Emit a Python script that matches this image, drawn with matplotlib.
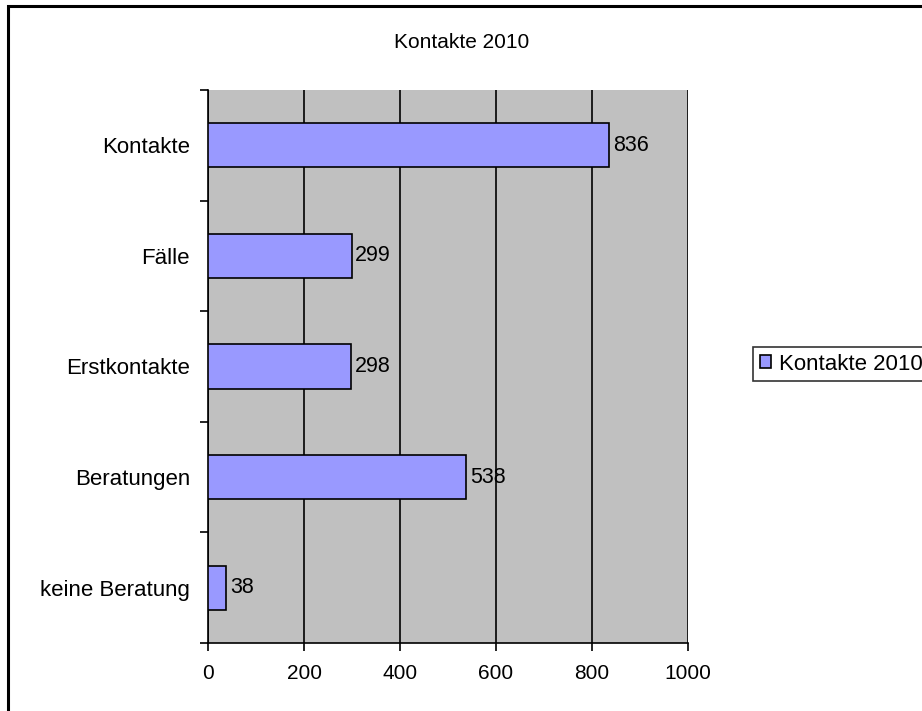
import matplotlib
matplotlib.use("Agg")
import matplotlib.pyplot as plt
from matplotlib.patches import Rectangle

# data, top to bottom as in the chart
categories = ["Kontakte", "Fälle", "Erstkontakte", "Beratungen", "keine Beratung"]
values = [836, 299, 298, 538, 38]
series_name = "Kontakte 2010"

plt.rcParams["font.family"] = ["Liberation Sans", "DejaVu Sans"]
plt.rcParams["font.size"] = 15

W, H = 922, 711
fig = plt.figure(figsize=(W / 100, H / 100), dpi=100)
ax = fig.add_axes([208 / W, 1 - 643 / H, (688 - 208) / W, (643 - 90) / H])

# outer frame of the chart (cut off at right and bottom)
fig.patches.append(Rectangle((8 / W, -0.1), 1.2, 1 - 6 / H + 0.1, transform=fig.transFigure,
                             fill=False, edgecolor="black", linewidth=2.2, zorder=0))

ax.set_facecolor("#c0c0c0")
ypos = list(range(len(categories)))[::-1]
bars = ax.barh(ypos, values, height=0.4, color="#9999ff", edgecolor="black",
               linewidth=1.2, label=series_name, zorder=3)
for y, v in zip(ypos, values):
    ax.text(v + 8, y, str(v), va="center", ha="left", fontsize=15.5, zorder=4)

ax.set_xlim(0, 1000)
ax.set_ylim(-0.5, len(categories) - 0.5)
ax.set_xticks(range(0, 1001, 200))
ax.set_yticks(ypos)
ax.set_yticklabels(categories, fontsize=16)
ax.set_yticks([i - 0.5 for i in range(len(categories) + 1)], minor=True)
ax.tick_params(axis="y", which="major", length=0, pad=13)
ax.tick_params(axis="y", which="minor", length=6, width=1.2, direction="out")
ax.tick_params(axis="x", length=6, width=1.2, direction="out", pad=9)
ax.xaxis.grid(True, color="black", linewidth=1.2, zorder=1)
ax.set_axisbelow(True)

for s in ["top", "right"]:
    ax.spines[s].set_visible(False)
for s in ["left", "bottom"]:
    ax.spines[s].set_linewidth(1.2)

fig.text(462 / W, 1 - 42 / H, "Kontakte 2010", ha="center", va="center")

# legend box runs past the right edge, as in the cropped original
leg = fig.legend(handles=[bars], labels=[series_name], loc="upper left",
                 bbox_to_anchor=(753 / W, 1 - 347 / H), frameon=True, fancybox=False,
                 handlelength=0.5, handleheight=0.5, handletextpad=0.35,
                 borderpad=0.3, borderaxespad=0, fontsize=16)
leg.get_frame().set_edgecolor("black")
leg.get_frame().set_linewidth(1.2)

fig.savefig("out.png", dpi=100)
